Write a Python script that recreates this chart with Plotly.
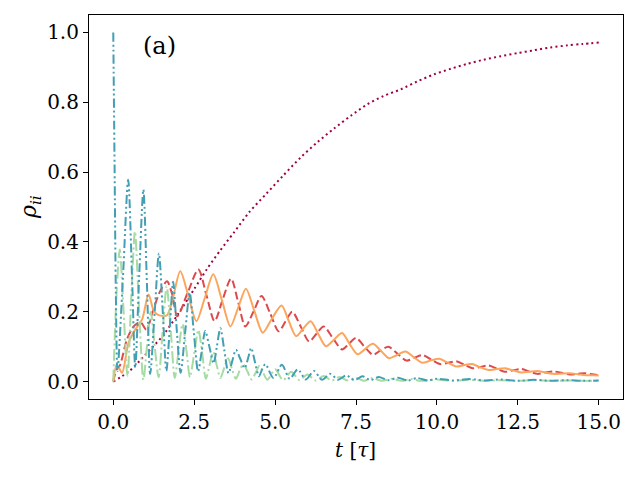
import plotly.graph_objects as go

# dark red dotted
rise_t = [0, 0.5, 1.0, 1.5, 2.0, 2.5, 2.9, 3.3, 3.72, 4.2, 4.75, 5.25, 5.78, 6.3, 6.81, 7.35,
          7.85, 8.35, 8.88, 9.4, 9.91, 10.43, 10.94, 11.45, 11.97, 12.5, 13.0, 13.5, 14.03, 14.5, 15.0]
rise_v = [0, 0.03, 0.078, 0.128, 0.193, 0.265, 0.323, 0.375, 0.426, 0.485, 0.54, 0.59, 0.641, 0.685, 0.724, 0.762,
          0.794, 0.818, 0.837, 0.86, 0.88, 0.896, 0.91, 0.922, 0.932, 0.941, 0.949, 0.957, 0.963, 0.967, 0.971]

# red dashed
red_t = [0, 0.1, 0.2, 0.42, 0.63, 0.84, 1.02, 1.25, 1.45, 1.66,
         1.82, 1.98, 2.3, 2.63, 2.88, 3.13, 3.38, 3.64, 3.86, 4.08,
         4.33, 4.58, 4.85, 5.11, 5.32, 5.53, 5.79, 6.05, 6.28, 6.5,
         6.78, 7.07, 7.28, 7.5, 7.76, 8.02, 8.26, 8.5, 8.78, 9.06,
         9.3, 9.55, 9.82, 10.1, 10.35, 10.6, 10.85, 11.1, 11.35, 11.6,
         11.85, 12.1, 12.35, 12.6, 12.85, 13.1, 13.35, 13.6, 13.85, 14.1,
         14.35, 14.6, 14.8, 15.0]
red_v = [0, 0.035, 0.045, 0.12, 0.158, 0.17, 0.149, 0.21, 0.259, 0.287,
         0.25, 0.187, 0.255, 0.321, 0.247, 0.173, 0.235, 0.295, 0.227, 0.158,
         0.2, 0.245, 0.195, 0.144, 0.172, 0.2, 0.158, 0.115, 0.137, 0.158,
         0.125, 0.092, 0.108, 0.125, 0.1, 0.077, 0.089, 0.1, 0.08, 0.06,
         0.068, 0.076, 0.063, 0.05, 0.054, 0.058, 0.048, 0.038, 0.042, 0.046,
         0.037, 0.028, 0.032, 0.036, 0.029, 0.022, 0.026, 0.029, 0.025, 0.02,
         0.022, 0.024, 0.021, 0.018]

# orange solid
orange_t = [0, 0.11, 0.27, 0.47, 0.68, 0.89, 1.09, 1.25, 1.4, 1.55,
            1.66, 1.81, 2.07, 2.32, 2.57, 2.83, 3.09, 3.36, 3.62, 3.86,
            4.1, 4.35, 4.62, 4.9, 5.2, 5.42, 5.65, 5.87, 6.1, 6.33,
            6.57, 6.82, 7.07, 7.3, 7.55, 7.78, 8.02, 8.27, 8.52, 8.77,
            9.03, 9.28, 9.55, 9.8, 10.07, 10.33, 10.6, 10.83, 11.08, 11.33,
            11.6, 11.85, 12.1, 12.35, 12.6, 12.85, 13.1, 13.35, 13.6, 13.85,
            14.1, 14.35, 14.6, 14.8, 15.0]
orange_v = [0, 0.049, 0.025, 0.11, 0.149, 0.178, 0.249, 0.203, 0.19, 0.188,
            0.19, 0.226, 0.316, 0.245, 0.173, 0.24, 0.307, 0.232, 0.158, 0.212,
            0.266, 0.205, 0.14, 0.18, 0.218, 0.174, 0.13, 0.152, 0.173, 0.137,
            0.101, 0.12, 0.139, 0.108, 0.078, 0.093, 0.108, 0.088, 0.067, 0.076,
            0.086, 0.07, 0.054, 0.06, 0.065, 0.054, 0.043, 0.047, 0.05, 0.041,
            0.033, 0.036, 0.038, 0.032, 0.026, 0.028, 0.03, 0.026, 0.022, 0.023,
            0.024, 0.021, 0.018, 0.018, 0.017]

# light green dash-dot
green_t = [0, 0.1, 0.2, 0.32, 0.44, 0.56, 0.67, 0.8, 0.93, 1.04,
           1.16, 1.28, 1.4, 1.53, 1.65, 1.78, 1.9, 2.02, 2.14, 2.26,
           2.37, 2.5, 2.63, 2.75, 2.86, 2.97, 3.09, 3.2, 3.31, 3.43,
           3.55, 3.67, 3.79, 3.9, 4.02, 4.15, 4.27, 4.4, 4.52, 4.76,
           5.0, 5.25, 5.5, 5.75, 6.0, 6.25, 6.5, 6.75, 7.0, 7.25,
           7.5, 7.75, 8.0, 8.3, 8.6, 8.9, 9.2, 9.5, 10.0, 10.5,
           11.0, 11.5, 12.0, 12.5, 13.0, 13.5, 14.0, 14.5, 15.0]
green_v = [0, 0.25, 0.378, 0.2, 0.015, 0.25, 0.43, 0.2, 0.005, 0.1,
           0.2, 0.1, 0.012, 0.15, 0.273, 0.14, 0.01, 0.09, 0.165, 0.09,
           0.012, 0.08, 0.148, 0.08, 0.008, 0.045, 0.085, 0.045, 0.01, 0.04,
           0.067, 0.035, 0.008, 0.03, 0.05, 0.028, 0.006, 0.025, 0.045, 0.005,
           0.035, 0.004, 0.028, 0.004, 0.02, 0.003, 0.016, 0.003, 0.013, 0.003,
           0.011, 0.002, 0.01, 0.002, 0.008, 0.002, 0.007, 0.002, 0.006, 0.002,
           0.005, 0.002, 0.004, 0.002, 0.004, 0.002, 0.003, 0.002, 0.002]

# teal dash-dot-dot
teal_t = [0, 0.04, 0.08, 0.13, 0.3, 0.46, 0.58, 0.68, 0.8, 0.93,
          1.04, 1.14, 1.28, 1.41, 1.53, 1.64, 1.75, 1.85, 1.96, 2.08,
          2.22, 2.36, 2.49, 2.62, 2.73, 2.84, 2.97, 3.1, 3.2, 3.31,
          3.43, 3.56, 3.68, 3.79, 3.92, 4.06, 4.16, 4.26, 4.38, 4.5,
          4.6, 4.7, 4.95, 5.21, 5.45, 5.7, 5.95, 6.2, 6.45, 6.7,
          6.95, 7.2, 7.45, 7.7, 7.95, 8.2, 8.5, 8.8, 9.1, 9.4,
          9.7, 10.0, 10.5, 11.0, 11.5, 12.0, 12.5, 13.0, 13.5, 14.0, 14.5, 15.0]
teal_v = [1.0, 0.62, 0.25, 0.03, 0.3, 0.578, 0.3, 0.04, 0.3, 0.55,
          0.28, 0.022, 0.2, 0.367, 0.2, 0.03, 0.16, 0.286, 0.15, 0.025,
          0.14, 0.255, 0.14, 0.029, 0.085, 0.145, 0.1, 0.052, 0.1, 0.153,
          0.09, 0.024, 0.06, 0.091, 0.066, 0.038, 0.065, 0.096, 0.055, 0.015,
          0.035, 0.05, 0.01, 0.048, 0.008, 0.035, 0.006, 0.03, 0.005, 0.022,
          0.005, 0.018, 0.004, 0.015, 0.004, 0.013, 0.004, 0.011, 0.003, 0.01,
          0.003, 0.008, 0.003, 0.007, 0.003, 0.006, 0.002, 0.005, 0.002, 0.004, 0.002, 0.003]

x_ticks = [0, 2.5, 5, 7.5, 10, 12.5, 15]
x_tick_labels = ["0.0", "2.5", "5.0", "7.5", "10.0", "12.5", "15.0"]
y_ticks = [0, 0.2, 0.4, 0.6, 0.8, 1.0]
y_tick_labels = ["0.0", "0.2", "0.4", "0.6", "0.8", "1.0"]

FONT = "DejaVu Serif"

fig = go.Figure()
series = [
    (rise_t, rise_v, "#9e0142", "2px,3.2px", 2.0),
    (red_t, red_v, "#dc4a4c", "8px,3.5px", 2.0),
    (orange_t, orange_v, "#fca55d", "solid", 2.0),
    (green_t, green_v, "#a6dba4", "12px,3.3px,2px,3.3px", 2.0),
    (teal_t, teal_v, "#439fb4", "9px,3px,2px,3px,2px,3px", 2.0),
]
for tx, vy, col, dash, w in series:
    fig.add_trace(go.Scatter(x=tx, y=vy, mode="lines",
                             line=dict(color=col, dash=dash, width=w, shape="spline", smoothing=0.8),
                             showlegend=False, hoverinfo="skip"))

axis_common = dict(showline=True, linecolor="black", linewidth=1.1, mirror=True,
                   ticks="outside", ticklen=5, tickwidth=1.1, tickcolor="black",
                   showgrid=False, zeroline=False,
                   tickfont=dict(family=FONT, size=20, color="black"))

fig.update_xaxes(range=[-0.75, 15.75], tickvals=x_ticks, ticktext=x_tick_labels, **axis_common)
fig.update_yaxes(range=[-0.05, 1.05], tickvals=y_ticks, ticktext=y_tick_labels, **axis_common)

# page body has an 8px offset; plot area target: x 89-623, y 15-399 in the screenshot
OFF = 8
L, R, T, B = 89 - OFF, 640 - 623 + OFF, 15 - OFF, 480 - 399 + OFF
PW, PH = 623 - 89, 399 - 15

fig.add_annotation(x=1.42, y=0.962, xref="x", yref="y", text="(a)", showarrow=False,
                   font=dict(family=FONT, size=24, color="black"), xanchor="center", yanchor="middle")
fig.add_annotation(x=(355 - 89) / PW, y=(399 - 450) / PH, xref="paper", yref="paper",
                   text="<i>t</i> [<i>τ</i>]", showarrow=False,
                   font=dict(family=FONT, size=20, color="black"), xanchor="center", yanchor="middle")
fig.add_annotation(x=(30 - 89) / PW, y=(399 - 207) / PH, xref="paper", yref="paper",
                   text="<i>ρ</i><sub><i>ii</i></sub>", showarrow=False, textangle=-90,
                   font=dict(family=FONT, size=22, color="black"), xanchor="center", yanchor="middle")

fig.update_layout(width=640, height=480, margin=dict(l=L, r=R, t=T, b=B),
                  plot_bgcolor="white", paper_bgcolor="white")

fig.write_html("out.html")
